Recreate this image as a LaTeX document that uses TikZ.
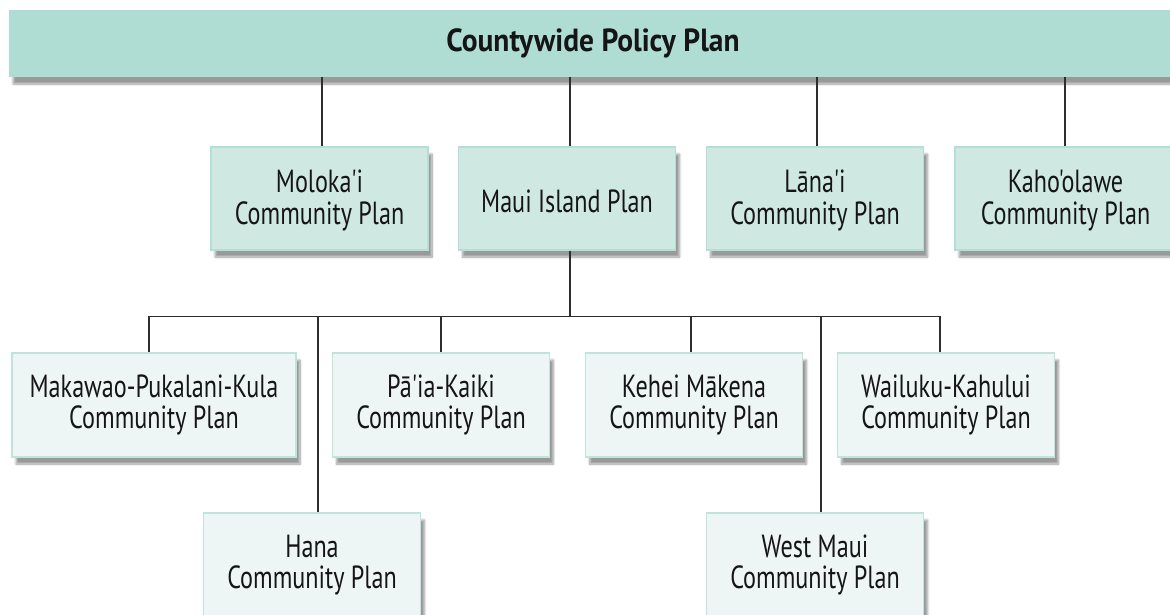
\documentclass[tikz,border=0pt]{standalone}
\usepackage{fontspec}
\setmainfont[FakeStretch=0.755, Ligatures=TeXOff]{PT Sans}
\newfontfamily\titlefont[FakeStretch=0.92, Ligatures=TeXOff]{PT Sans}
\usetikzlibrary{shadows.blur}
\definecolor{barfill}{HTML}{B0DDD3}
\definecolor{midfill}{HTML}{CFE9E2}
\definecolor{midline}{HTML}{B3DFD4}
\definecolor{lowfill}{HTML}{EEF6F5}
\definecolor{lowline}{HTML}{BDE5DC}
\definecolor{conn}{HTML}{2E2E2E}
\definecolor{txt}{HTML}{151515}
\newcommand\lowertext[2][-3.5pt]{\raisebox{#1}[\height][\depth]{\begin{tabular}{@{}c@{}}#2\end{tabular}}}
\tikzset{
  shad/.style={blur shadow={shadow xshift=4pt, shadow yshift=-7pt, shadow blur steps=10, shadow opacity=40}},
  topbar/.style={shad, fill=barfill, draw=none, minimum width=1171pt, minimum height=67pt, inner sep=0pt,
    font=\titlefont\fontsize{32}{31}\selectfont\bfseries, text=txt},
  midbox/.style={shad, fill=midfill, draw=midline, line width=1.2pt, minimum width=217pt, minimum height=103pt,
    inner sep=0pt, align=center, font=\fontsize{32}{31}\selectfont, text=txt},
  lowbox/.style={shad, fill=lowfill, draw=lowline, line width=1.2pt, minimum width=217pt, minimum height=104pt,
    inner sep=0pt, align=center, font=\fontsize{32}{31}\selectfont, text=txt},
  link/.style={draw=conn, line width=1.5pt}
}
\begin{document}
\begin{tikzpicture}[x=1pt,y=-1pt]
\useasboundingbox (0,0) rectangle (1170,614);
\clip (0,0) rectangle (1170,614);
\coordinate (bus) at (570,316.5);
\node[topbar] (cpp) at (594.5,43.5) {\hspace*{-3pt}Countywide Policy Plan};
\node[midbox] (mol) at (319.5,198.5) {\lowertext{Moloka'i\\Community Plan}};
\node[midbox] (mip) at (567,198.5) {\lowertext[-7pt]{Maui Island Plan}};
\node[midbox] (lan) at (815,198.5) {\lowertext{Lāna'i\\Community Plan}};
\node[midbox, minimum width=221pt] (kah) at (1065.5,198.5) {\lowertext{Kaho'olawe\\Community Plan}};
\node[lowbox, minimum width=284pt] (mpk) at (154,405) {Makawao-Pukalani-Kula\\Community Plan};
\node[lowbox] (pai) at (441,405) {Pā'ia-Kaiki\\Community Plan};
\node[lowbox] (keh) at (694,405) {Kehei Mākena\\Community Plan};
\node[lowbox] (wai) at (946,405) {Wailuku-Kahului\\Community Plan};
\node[lowbox] (han) at (312,565) {Hana\\Community Plan};
\node[lowbox] (wes) at (815,565) {West Maui\\Community Plan};
\draw[link] ([xshift=2.5pt]mol.north) -- ([xshift=2.5pt]mol.north |- cpp.south);
\draw[link] ([xshift=3pt]mip.north) -- ([xshift=3pt]mip.north |- cpp.south);
\draw[link] ([xshift=2pt]lan.north) -- ([xshift=2pt]lan.north |- cpp.south);
\draw[link] ([xshift=-0.5pt]kah.north) -- ([xshift=-0.5pt]kah.north |- cpp.south);
\draw[link] ([xshift=3pt]mip.south) -- (bus);
\draw[link] ([xshift=-5pt]mpk.north) |- ([xshift=-6pt]wai.north |- bus) -- ([xshift=-6pt]wai.north);
\draw[link] ([xshift=6pt]han.north) -- ([xshift=6pt]han.north |- bus);
\draw[link] (pai.north) -- (pai.north |- bus);
\draw[link] ([xshift=-3pt]keh.north) -- ([xshift=-3pt]keh.north |- bus);
\draw[link] ([xshift=6pt]wes.north) -- ([xshift=6pt]wes.north |- bus);
\end{tikzpicture}
\end{document}
